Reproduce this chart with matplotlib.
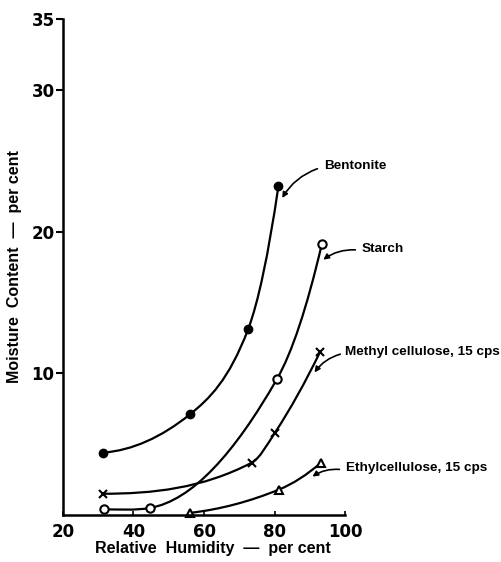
import matplotlib.pyplot as plt
from matplotlib.path import Path
from matplotlib.patches import PathPatch
import numpy as np

# values
bentonite_x = [31.4, 56.0, 72.5, 81.1]
bentonite_y = [4.4, 7.1, 13.1, 23.2]
starch_x = [31.6, 44.7, 80.7, 93.4]
starch_y = [0.4, 0.5, 9.6, 19.1]
methyl_x = [31.3, 73.6, 80.1, 92.9]
methyl_y = [1.5, 3.7, 5.8, 11.5]
ethyl_x = [56.0, 81.3, 93.2]
ethyl_y = [0.15, 1.8, 3.7]

x_ticks = [20, 40, 60, 80, 100]
y_ticks = [10, 20, 30, 35]

labels = ["Bentonite", "Starch", "Methyl cellulose, 15 cps", "Ethylcellulose, 15 cps"]

plt.rcParams['font.family'] = ['DejaVu Sans']
LAB = ['Liberation Sans', 'DejaVu Sans']


def slopes(x, y):
    x = np.asarray(x, float)
    y = np.asarray(y, float)
    d = np.diff(y) / np.diff(x)
    m = np.zeros_like(x)
    for i in range(1, len(x) - 1):
        m[i] = np.sqrt(d[i - 1] * d[i])
    m[0] = max(2 * d[0] - m[1], 0)
    m[-1] = max(2 * d[-1] - m[-2], 0)
    return m


def smooth_curve(ax, x, y, lw=1.6):
    # hermite segments turned into bezier curves, drawn by matplotlib
    m = slopes(x, y)
    verts = [(x[0], y[0])]
    codes = [Path.MOVETO]
    for i in range(len(x) - 1):
        h = x[i + 1] - x[i]
        verts += [(x[i] + h / 3, y[i] + m[i] * h / 3),
                  (x[i + 1] - h / 3, y[i + 1] - m[i + 1] * h / 3),
                  (x[i + 1], y[i + 1])]
        codes += [Path.CURVE4] * 3
    ax.add_patch(PathPatch(Path(verts, codes), fill=False, lw=lw,
                           edgecolor='black', clip_on=False))


fig = plt.figure(figsize=(5.01, 5.62), dpi=100)
ax = fig.add_axes([0.1257, 0.0836, 0.563, 0.8826])

smooth_curve(ax, bentonite_x, bentonite_y)
smooth_curve(ax, starch_x, starch_y)
smooth_curve(ax, methyl_x, methyl_y)
smooth_curve(ax, ethyl_x, ethyl_y)

ax.plot(bentonite_x, bentonite_y, 'o', color='black', ms=6, clip_on=False)
ax.plot(starch_x, starch_y, 'o', mfc='white', mec='black', mew=1.5, ms=6, clip_on=False)
ax.plot(methyl_x, methyl_y, 'x', color='black', mew=1.5, ms=6, clip_on=False)
ax.plot(ethyl_x, ethyl_y, '^', mfc='white', mec='black', mew=1.5, ms=6, clip_on=False)

ax.set_xlim(20, 100)
ax.set_ylim(0, 35)
for s in ['top', 'right']:
    ax.spines[s].set_visible(False)
for s in ['left', 'bottom']:
    ax.spines[s].set_linewidth(1.8)

ax.set_xticks(x_ticks)
ax.set_yticks(y_ticks)
ax.tick_params(axis='y', direction='out', length=5, width=1.5, labelsize=12, pad=1)
ax.tick_params(axis='x', direction='in', length=3, width=1.2, labelsize=12, pad=6)
for t in ax.get_xticklabels() + ax.get_yticklabels():
    t.set_fontweight('bold')

ax.set_xlabel("Relative  Humidity  \u2014  per cent", fontsize=11.5, fontweight='bold',
              family=LAB, labelpad=0)
ax.xaxis.label.set_x(0.53)
ax.set_ylabel("Moisture  Content  \u2014  per cent", fontsize=11.5, fontweight='bold',
              family=LAB, labelpad=7)

# labels with leader arrows
ann = [
    (labels[0], (94.0, 24.6), (81.8, 22.2), (92.9, 24.5)),
    (labels[1], (104.8, 18.8), (93.2, 17.9), (103.7, 18.7)),
    (labels[2], (100.0, 11.5), (90.9, 9.9), (99.4, 11.4)),
    (labels[3], (100.3, 3.3), (90.1, 2.6), (99.2, 3.2)),
]
for text, tpos, head, tail in ann:
    ax.text(tpos[0], tpos[1], text, fontsize=9.7, fontweight='bold', family=LAB,
            ha='left', va='center', clip_on=False)
    ax.annotate("", xy=head, xytext=tail,
                arrowprops=dict(arrowstyle='-|>', color='black', lw=1.2,
                                mutation_scale=8,
                                connectionstyle='arc3,rad=0.2'),
                annotation_clip=False)

fig.savefig("out.png", dpi=100)
